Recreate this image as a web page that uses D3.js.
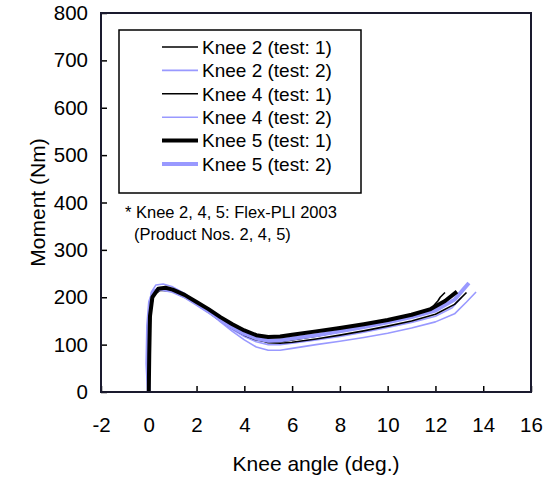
<!DOCTYPE html>
<meta charset="utf-8">
<style>
  body { margin: 0; background: #fff; }
  text { font-family: Arial, "Liberation Sans", sans-serif; fill: #000; }
</style>
<script src="https://d3js.org/d3.v7.min.js"></script>
<body>
<div id="chart"></div>
<script>

// axis settings
var xDomain = [-2, 16]
var yDomain = [0, 800]
var xTicks = [-2, 0, 2, 4, 6, 8, 10, 12, 14, 16]
var yTicks = [0, 100, 200, 300, 400, 500, 600, 700, 800]

// curves: [knee angle (deg.), moment (Nm)]
var knee2Test1 = [[0,0],[0.03,100],[0.08,170],[0.2,205],[0.5,215],[1,212],[1.5,200],[2,185],[2.5,168],[3,150],[3.5,134],[4,120],[4.5,110],[5,106],[5.5,106],[6,110],[7,118],[8,127],[9,136],[10,146],[11,158],[11.8,175],[12.1,192],[12.2,200],[12.4,210]]
var knee2Test2 = [[0,0],[-0.04,80],[0,160],[0.1,210],[0.3,226],[0.6,228],[1,222],[1.5,208],[2,190],[2.5,170],[3,148],[3.5,128],[4,110],[4.5,95],[5,88],[5.5,88],[6,92],[7,100],[8,107],[9,115],[10,124],[11,135],[12,148],[12.8,165],[13.3,190],[13.7,211]]
var knee4Test1 = [[0,0],[0.02,90],[0.06,170],[0.2,208],[0.5,217],[1,214],[1.5,203],[2,188],[2.5,171],[3,153],[3.5,137],[4,124],[4.5,112],[5,104],[5.5,103],[6,105],[7,112],[8,120],[9,129],[10,139],[11,150],[12,164],[12.8,185],[13.3,210]]
var knee4Test2 = [[0,0],[0.01,100],[0.05,180],[0.2,212],[0.5,220],[1,216],[1.5,204],[2,188],[2.5,170],[3,150],[3.5,132],[4,117],[4.5,106],[5,100],[5.5,100],[6,103],[7,110],[8,117],[9,126],[10,136],[11,147],[12,160],[12.7,178],[13.1,200]]
var knee5Test1 = [[0,0],[0.02,80],[0.05,160],[0.15,200],[0.4,218],[0.7,220],[1,216],[1.5,205],[2,190],[2.5,175],[3,158],[3.5,143],[4,130],[4.5,120],[5,116],[5.5,117],[6,121],[7,128],[8,135],[9,143],[10,152],[11,163],[11.8,175],[12.4,192],[12.9,212]]
var knee5Test2 = [[0,0],[-0.06,60],[-0.03,140],[0.05,190],[0.2,212],[0.5,218],[1,213],[1.5,202],[2,186],[2.5,170],[3,152],[3.5,136],[4,123],[4.5,113],[5,108],[5.5,109],[6,113],[7,120],[8,128],[9,137],[10,147],[11,158],[12,172],[12.8,195],[13.4,230]]

var seriesNames = ["Knee 2 (test: 1)", "Knee 2 (test: 2)", "Knee 4 (test: 1)", "Knee 4 (test: 2)", "Knee 5 (test: 1)", "Knee 5 (test: 2)"]
var seriesData = [knee2Test1, knee2Test2, knee4Test1, knee4Test2, knee5Test1, knee5Test2]

var black = "#000000", blue = "#9999ff"
var seriesColor = [black, blue, black, blue, black, blue]
var seriesWidth = [1.6, 1.6, 1.6, 1.6, 4, 4]

var width = 552, height = 478
var margin = {left: 101, right: 21, top: 13, bottom: 86}

var svg = d3.select("#chart").append("svg")
    .attr("width", width)
    .attr("height", height)

var x = d3.scaleLinear().domain(xDomain).range([margin.left, width - margin.right])
var y = d3.scaleLinear().domain(yDomain).range([height - margin.bottom, margin.top])

// draw the curves, thick ones last so order matches the picture
var line = d3.line().x(function(d){ return x(d[0]) }).y(function(d){ return y(d[1]) })
var order = [1, 3, 0, 2, 5, 4]
svg.selectAll("path.curve")
    .data(order)
    .enter()
    .append("path")
    .attr("class", "curve")
    .attr("d", function(i){ return line(seriesData[i]) })
    .attr("fill", "none")
    .attr("stroke", function(i){ return seriesColor[i] })
    .attr("stroke-width", function(i){ return seriesWidth[i] })
    .attr("stroke-linejoin", "round")

// axes with inward ticks
var fmt = function(d){ return String(d) }
var xAxis = svg.append("g")
    .attr("transform", "translate(0," + (height - margin.bottom) + ")")
    .call(d3.axisBottom(x).tickValues(xTicks).tickFormat(fmt).tickSizeInner(-6).tickSizeOuter(0).tickPadding(25))
var yAxis = svg.append("g")
    .attr("transform", "translate(" + margin.left + ",0)")
    .call(d3.axisLeft(y).tickValues(yTicks).tickFormat(fmt).tickSizeInner(-6).tickSizeOuter(0).tickPadding(13))

svg.selectAll(".tick line").attr("stroke", "#000").attr("stroke-width", 1.5)
svg.selectAll(".domain").remove()
svg.selectAll(".tick text").style("font-size", "20.5px").attr("fill", "#000")

// plot frame
svg.append("rect")
    .attr("x", x(xDomain[0]))
    .attr("y", y(yDomain[1]))
    .attr("width", x(xDomain[1]) - x(xDomain[0]))
    .attr("height", y(yDomain[0]) - y(yDomain[1]))
    .attr("fill", "none")
    .attr("stroke", "#1a1a2e")
    .attr("stroke-width", 2)

// axis titles
svg.append("text")
    .attr("x", (x(xDomain[0]) + x(xDomain[1])) / 2)
    .attr("y", 471)
    .attr("text-anchor", "middle")
    .style("font-size", "21px")
    .text("Knee angle (deg.)")

svg.append("text")
    .attr("transform", "translate(45," + (y(400)) + ") rotate(-90)")
    .attr("text-anchor", "middle")
    .style("font-size", "21px")
    .text("Moment (Nm)")

// legend
var legend = svg.append("g")
legend.append("rect")
    .attr("x", 119).attr("y", 30)
    .attr("width", 242).attr("height", 163)
    .attr("fill", "#fff")
    .attr("stroke", "#000")
    .attr("stroke-width", 1.5)

legend.selectAll("line.key")
    .data(seriesNames)
    .enter()
    .append("line")
    .attr("class", "key")
    .attr("x1", 162).attr("x2", 198)
    .attr("y1", function(d,i){ return 47 + i*23.4 })
    .attr("y2", function(d,i){ return 47 + i*23.4 })
    .attr("stroke", function(d,i){ return seriesColor[i] })
    .attr("stroke-width", function(d,i){ return seriesWidth[i] })

legend.selectAll("text.key")
    .data(seriesNames)
    .enter()
    .append("text")
    .attr("class", "key")
    .attr("x", 202)
    .attr("y", function(d,i){ return 47 + i*23.4 })
    .attr("dy", "0.36em")
    .style("font-size", "19px")
    .text(function(d){ return d })

// note under the legend
svg.append("text")
    .attr("x", 125).attr("y", 218)
    .style("font-size", "16.5px")
    .text("* Knee 2, 4, 5: Flex-PLI 2003")
svg.append("text")
    .attr("x", 134).attr("y", 240)
    .style("font-size", "16.5px")
    .text("(Product Nos. 2, 4, 5)")

</script>
</body>
